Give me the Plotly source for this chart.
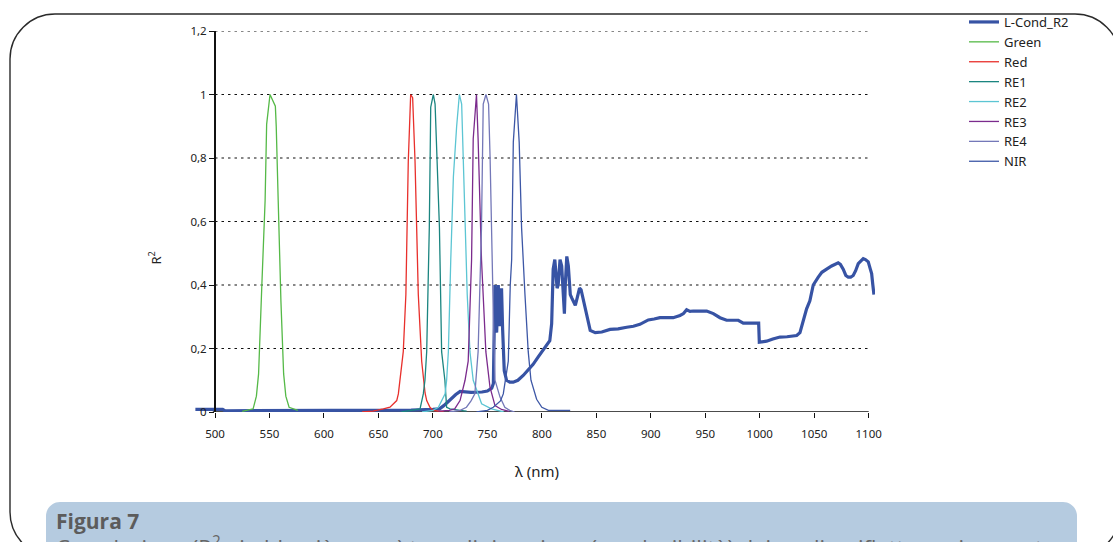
import plotly.graph_objects as go

# ---------------- data ----------------
lcond_wl = [482, 507, 509, 600, 655, 680, 700, 706, 710, 713, 717, 721, 725, 735, 745, 750, 754, 755.5,
            756.9, 757.7, 758.5, 760, 761.5, 762.5, 763, 764, 765.5, 767.6, 770.6, 773.7, 778, 782.9, 787,
            792, 797, 801.2, 805, 807.3, 809, 810.4, 811.9, 813, 814, 815, 816.7, 818.2, 819.2, 820.7,
            821.5, 822.9, 824.3, 826.1, 827.3, 830.7, 832.5, 834.6, 836, 838.3, 841, 844.4, 849, 855,
            862.6, 870, 877.9, 884, 890, 897.7, 903, 908.4, 915, 920.6, 926.8, 930, 932.9, 936, 939, 945,
            951.3, 957.4, 963.5, 969.6, 975, 980.3, 984.9, 990, 997.2, 999, 999.6, 1006.3, 1012, 1018.6,
            1025, 1033.9, 1036.9, 1040, 1043, 1046, 1049.1, 1053.7, 1057, 1061.4, 1066, 1072, 1074,
            1076.6, 1079, 1081.2, 1083.5, 1085.8, 1088, 1090.4, 1093, 1095, 1097, 1099.6, 1101.5,
            1102.7, 1103.8, 1104.8]
lcond_r2 = [0.008, 0.008, 0.004, 0.004, 0.005, 0.006, 0.008, 0.01, 0.02, 0.03, 0.04, 0.055, 0.065, 0.062,
            0.063, 0.066, 0.075, 0.09, 0.40, 0.30, 0.25, 0.40, 0.27, 0.38, 0.39, 0.26, 0.13, 0.10, 0.094,
            0.094, 0.10, 0.115, 0.13, 0.15, 0.175, 0.195, 0.21, 0.225, 0.278, 0.45, 0.48, 0.42, 0.39, 0.40,
            0.48, 0.46, 0.38, 0.31, 0.40, 0.49, 0.46, 0.37, 0.36, 0.336, 0.36, 0.39, 0.385, 0.35, 0.30,
            0.257, 0.25, 0.252, 0.26, 0.262, 0.267, 0.27, 0.276, 0.29, 0.293, 0.297, 0.297, 0.297, 0.304,
            0.31, 0.322, 0.317, 0.318, 0.318, 0.318, 0.31, 0.297, 0.289, 0.289, 0.289, 0.28, 0.28, 0.28,
            0.28, 0.22, 0.223, 0.23, 0.236, 0.237, 0.241, 0.25, 0.289, 0.325, 0.35, 0.40, 0.425, 0.44,
            0.45, 0.46, 0.47, 0.465, 0.45, 0.43, 0.425, 0.425, 0.43, 0.445, 0.467, 0.478, 0.483, 0.48,
            0.473, 0.45, 0.436, 0.40, 0.37]

green_wl = [525, 530, 535, 538, 540, 543, 546, 547.4, 550.5, 555.4, 556.2, 558, 560.5, 563, 565, 568, 576]
green_r = [0.002, 0.005, 0.01, 0.05, 0.12, 0.40, 0.667, 0.906, 1.0, 0.963, 0.90, 0.667, 0.35, 0.12, 0.05, 0.015, 0.005]

red_wl = [635, 645, 654.5, 660.6, 666.8, 668.3, 672.8, 675.2, 677.4, 679.6, 681.4, 683.6, 686.6, 689.7, 692.8, 694.3, 697.3, 700.4, 710]
red_r = [0.0, 0.003, 0.01, 0.015, 0.036, 0.057, 0.19, 0.37, 0.79, 1.0, 0.99, 0.79, 0.37, 0.16, 0.06, 0.036, 0.015, 0.005, 0.0]

re1_wl = [671, 680, 688.2, 691.2, 692.7, 694.3, 696.7, 698, 700.4, 702, 706, 708, 711, 712.6, 715.7, 725, 731]
re1_r = [0.0, 0.005, 0.01, 0.057, 0.10, 0.19, 0.58, 0.96, 1.0, 0.97, 0.58, 0.19, 0.10, 0.015, 0.01, 0.005, 0.003]

re2_wl = [690, 700, 705, 711.2, 712.6, 714.2, 716.4, 718.8, 721.8, 724.3, 726.4, 728.5, 731.5, 734, 737, 744.7, 753.8, 765]
re2_r = [0.0, 0.005, 0.015, 0.057, 0.10, 0.19, 0.48, 0.74, 0.90, 1.0, 0.97, 0.74, 0.37, 0.19, 0.10, 0.026, 0.01, 0.0]

re3_wl = [705, 715, 720, 724.9, 729.5, 732.4, 735.5, 737, 740, 741.5, 744.6, 748.6, 752.4, 757, 763, 770]
re3_r = [0.003, 0.005, 0.01, 0.036, 0.10, 0.16, 0.48, 0.86, 1.0, 0.86, 0.48, 0.19, 0.078, 0.02, 0.008, 0.002]

re4_wl = [715, 725, 730.8, 735, 738.5, 741.5, 744.6, 746.2, 748.7, 751.1, 752.5, 753.8, 755.5, 757, 761.6, 766, 770.5, 775]
re4_r = [0.0, 0.005, 0.015, 0.035, 0.057, 0.19, 0.58, 0.97, 1.0, 0.97, 0.80, 0.54, 0.30, 0.10, 0.047, 0.015, 0.005, 0.0]

nir_wl = [740, 750, 755.4, 762, 764.6, 769.2, 771, 772.3, 773.8, 776.7, 779.2, 781.4, 784.5, 787.5, 790, 795.2, 800, 806, 826]
nir_r = [0.0, 0.005, 0.015, 0.035, 0.057, 0.16, 0.40, 0.48, 0.85, 1.0, 0.85, 0.58, 0.37, 0.19, 0.10, 0.04, 0.015, 0.005, 0.005]

series_names = ["L-Cond_R2", "Green", "Red", "RE1", "RE2", "RE3", "RE4", "NIR"]
series_colors = ["#3753a4", "#55b947", "#e8302c", "#1b8580", "#5cc5d3", "#7b2b8d", "#7478b8", "#3d57a6"]
series_widths = [3.2, 1.3, 1.3, 1.3, 1.3, 1.3, 1.3, 1.3]

y_ticks = [0, 0.2, 0.4, 0.6, 0.8, 1.0, 1.2]
x_ticks = [500, 550, 600, 650, 700, 750, 800, 850, 900, 950, 1000, 1050, 1100]

caption_title = "Figura 7"
caption_text = ("Correlazione (R<sup>2</sup> - in blu più scuro) tra salinizzazione (conducibilità) "
                "dei suoli e riflettanza iperspet-")

# ---------------- layout geometry ----------------
W, H = 1113, 542
L, R, T, B = 195, 238, 31, 130
PW, PH = W - L - R, H - T - B


def px(x):
    return (x - L) / PW


def py(y):
    return (H - B - y) / PH


def rounded_path(x0, y0, x1, y1, r):
    k = 0.5523 * r
    pts = []
    pts.append(f"M{px(x0 + r)},{py(y0)}")
    pts.append(f"L{px(x1 - r)},{py(y0)}")
    pts.append(f"C{px(x1 - r + k)},{py(y0)} {px(x1)},{py(y0 + r - k)} {px(x1)},{py(y0 + r)}")
    pts.append(f"L{px(x1)},{py(y1 - r)}")
    pts.append(f"C{px(x1)},{py(y1 - r + k)} {px(x1 - r + k)},{py(y1)} {px(x1 - r)},{py(y1)}")
    pts.append(f"L{px(x0 + r)},{py(y1)}")
    pts.append(f"C{px(x0 + r - k)},{py(y1)} {px(x0)},{py(y1 - r + k)} {px(x0)},{py(y1 - r)}")
    pts.append(f"L{px(x0)},{py(y0 + r)}")
    pts.append(f"C{px(x0)},{py(y0 + r - k)} {px(x0 + r - k)},{py(y0)} {px(x0 + r)},{py(y0)}")
    pts.append("Z")
    return " ".join(pts)


fig = go.Figure()
data = [(lcond_wl, lcond_r2), (green_wl, green_r), (red_wl, red_r), (re1_wl, re1_r),
        (re2_wl, re2_r), (re3_wl, re3_r), (re4_wl, re4_r), (nir_wl, nir_r)]
for (xs, ys), name, col, w in zip(data, series_names, series_colors, series_widths):
    fig.add_trace(go.Scatter(x=xs, y=ys, mode="lines", name=name,
                             line=dict(color=col, width=w)))

shapes = []
# frame and caption box
shapes.append(dict(type="path", xref="paper", yref="paper", path=rounded_path(10, 14, 1120, 557, 45),
                   line=dict(color="#2a2a2a", width=1.4), fillcolor="rgba(0,0,0,0)", layer="below"))
shapes.append(dict(type="path", xref="paper", yref="paper", path=rounded_path(46, 502, 1077, 600, 14),
                   line=dict(width=0), fillcolor="#b5cbe0", layer="below"))
# dotted grid lines
for v in y_ticks[1:]:
    shapes.append(dict(type="line", xref="x", yref="y", x0=x_ticks[0], x1=x_ticks[-1], y0=v, y1=v,
                       line=dict(color="#111", width=1.2, dash="2.5px,4px"), layer="below"))
# x axis line
shapes.append(dict(type="line", xref="x", yref="y", x0=x_ticks[0] - 2, x1=x_ticks[-1], y0=0, y1=0,
                   line=dict(color="#111", width=1.5), layer="below"))

x_lo = x_ticks[0] - 20 / 1.0895
x_hi = x_ticks[-1] + 6.3 / 1.0895

fig.update_layout(
    width=W, height=H,
    margin=dict(l=L, r=R, t=T, b=B, autoexpand=False),
    paper_bgcolor="white", plot_bgcolor="rgba(0,0,0,0)",
    separators=", ",
    font=dict(family="Noto Sans, Open Sans, sans-serif", color="#222"),
    showlegend=True,
    legend=dict(x=px(964), y=py(7), xanchor="left", yanchor="top",
                bgcolor="rgba(0,0,0,0)", font=dict(size=13, color="#222"),
                tracegroupgap=0, itemclick=False),
    xaxis=dict(range=[x_lo, x_hi], tickvals=x_ticks, ticktext=[str(t) for t in x_ticks],
               showgrid=False, zeroline=False, showline=False,
               ticks="outside", ticklen=5, tickwidth=1.2, tickcolor="#111",
               tickfont=dict(size=11.5, color="#222"), ticklabelstandoff=6),
    yaxis=dict(range=[0, 1.2], tickvals=y_ticks, ticktext=["0", "0,2", "0,4", "0,6", "0,8", "1", "1,2"],
               anchor="free", position=px(215), showgrid=False, zeroline=False,
               showline=True, linecolor="#111", linewidth=2,
               ticks="outside", ticklen=5, tickwidth=1.2, tickcolor="#111",
               tickfont=dict(size=11.5, color="#222")),
    shapes=shapes,
    annotations=[
        dict(text="R<sup>2</sup>", x=px(143), y=py(258), xref="paper", yref="paper", showarrow=False,
             textangle=-90, font=dict(size=13, color="#222")),
        dict(text="λ (nm)", x=px(537), y=py(483), xref="paper", yref="paper", showarrow=False,
             font=dict(size=15, color="#222")),
        dict(text="<b>" + caption_title + "</b>", x=px(54), y=py(521), xref="paper", yref="paper",
             xanchor="left", yanchor="middle", showarrow=False,
             font=dict(size=21, color="#5c5c5c", family="Open Sans, sans-serif")),
        dict(text=caption_text, x=px(54), y=py(529), xref="paper", yref="paper",
             xanchor="left", yanchor="top", showarrow=False,
             font=dict(size=22, color="#666", family="Open Sans, sans-serif")),
    ],
)

fig.write_html("out.html")
